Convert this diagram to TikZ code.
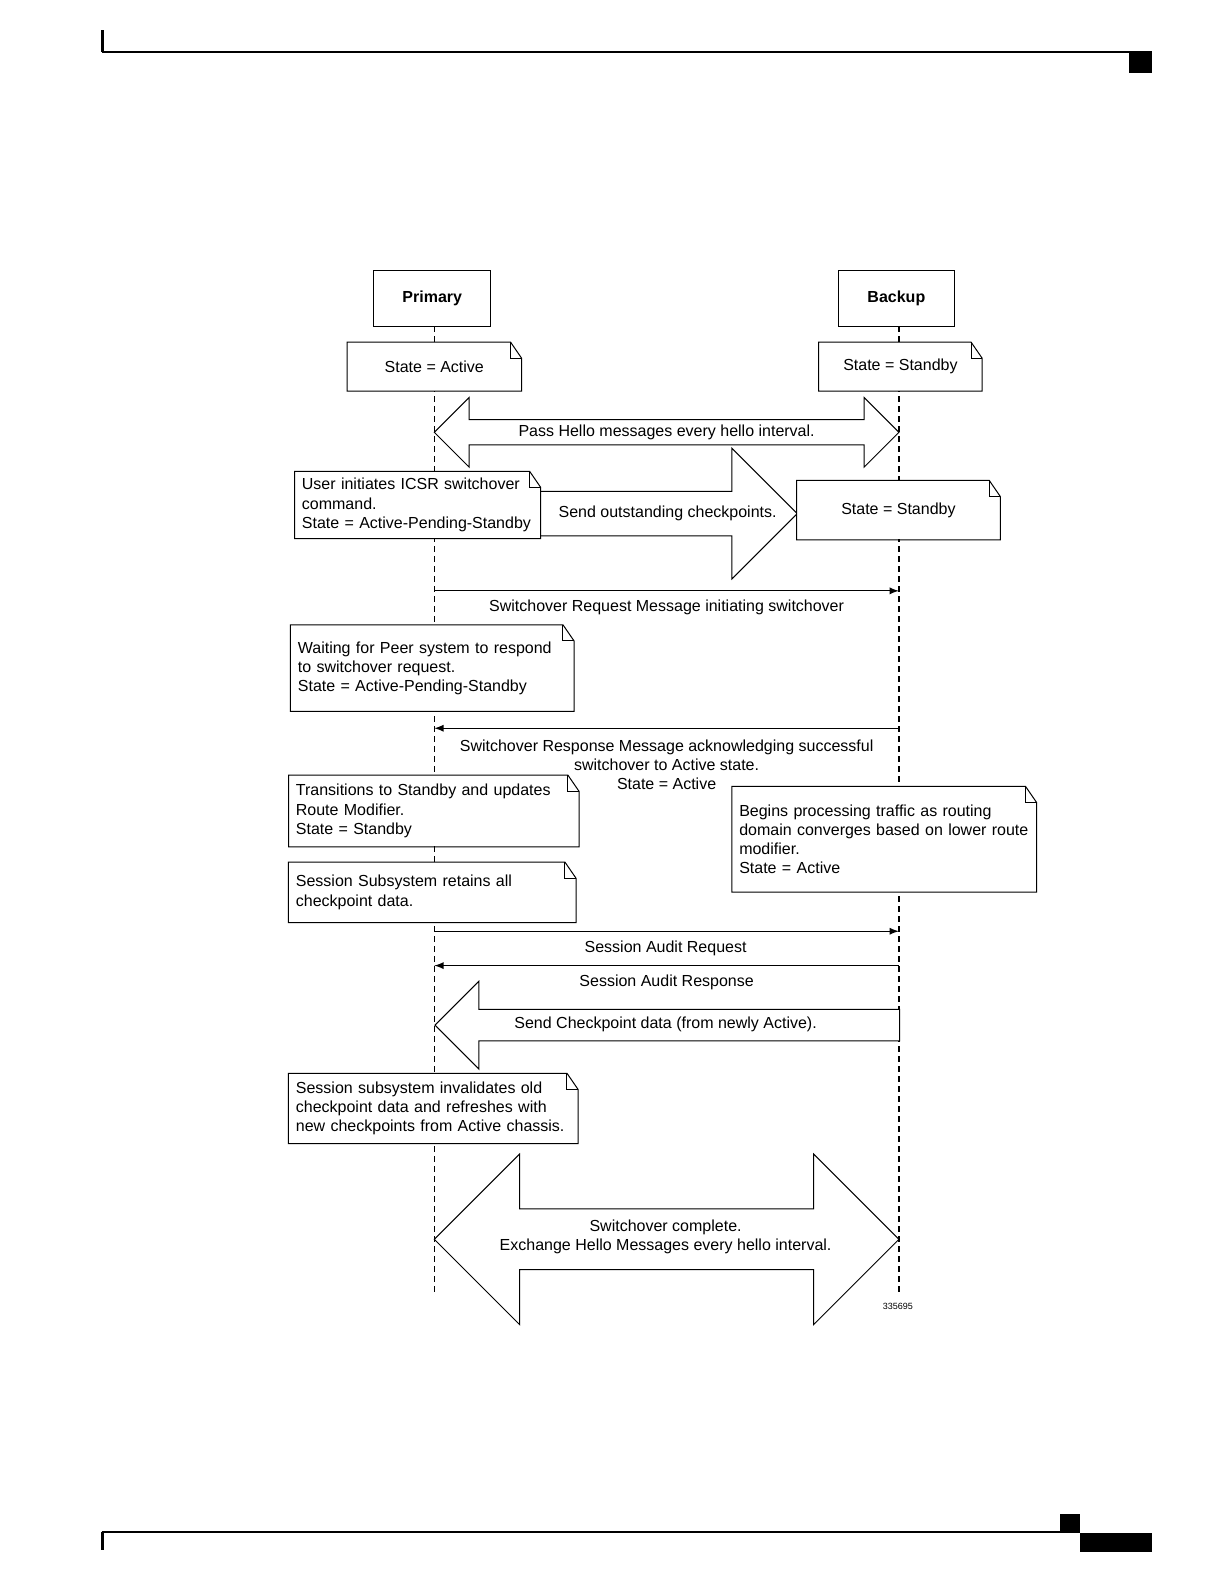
\documentclass[tikz,border=0pt]{standalone}
\usepackage{fontspec}
\setmainfont{Liberation Sans}
\usepackage{tikz}
\usetikzlibrary{arrows}
\usetikzlibrary{shapes.arrows}

\tikzset{
  lifehead/.style={draw, line width=0.5pt, fill=white, font=\fontsize{8}{9.6}\selectfont\bfseries, minimum width=58.3pt, minimum height=27.8pt},
  note/.style={fill=white, inner xsep=3.5pt, inner ysep=0pt},
  lifeline/.style={dash pattern=on 3pt off 2pt, line width=0.6pt},
  msg/.style={-latex, line width=0.6pt},
  fold/.style={line width=0.5pt},
  blockarrow/.style={draw, fill=white, line width=0.5pt, inner xsep=0pt},
}
\newcommand{\foldnote}[1]{%
  \draw [fold] (#1.north west) -- ([shift={(-11,0)}]#1.north east) -- ([shift={(0,16)}]#1.north east) -- (#1.south east) -- (#1.south west) -- cycle;
  \draw [fold] ([shift={(-11,0)}]#1.north east) |- ([shift={(0,16)}]#1.north east);
}

\begin{document}
\begin{tikzpicture}[x=0.505pt, y=-0.505pt, font=\fontsize{8}{9.6}\selectfont]
      \useasboundingbox (0, 0) rectangle (1212, 1568.3);

      % page rules
      \draw [line width=1.5pt] (101, 30) -- (101, 51.5);
      \draw [line width=1pt] (100.5, 51) -- (1141, 51);
      \fill (1118, 52) rectangle (1141, 72);
      \draw [line width=1pt] (100.5, 1517) -- (1049, 1517);
      \draw [line width=1.5pt] (101, 1516.5) -- (101, 1535);
      \fill (1049, 1499) rectangle (1069, 1518);
      \fill (1069, 1518) rectangle (1141, 1537);

      % lifelines
      \node (prim) [lifehead] at (428, 295.5) {Primary};
      \node (back) [lifehead] at (887.5, 295.5) {Backup};
      \coordinate (pl) at (430, 323);
      \coordinate (bl) at (890, 323);
      \draw [lifeline] (pl) -- (pl |- 0,1282);
      \draw [lifeline] (bl) -- (bl |- 0,1282);

      % block arrows
      \node (hello) [double arrow, blockarrow, minimum height=232.3pt, inner ysep=6.06pt, double arrow head extend=11.1pt] at (660, 428) {};
      \node at (hello) {Pass Hello messages every hello interval.};
      \node (ckpt) [single arrow, blockarrow, anchor=tip, minimum height=128.8pt, inner ysep=10.9pt, single arrow head extend=21.5pt] at (790, 508.5) {};
      \node at (661, 508) {Send outstanding checkpoints.};
      \node (newck) [single arrow, blockarrow, anchor=tip, shape border rotate=180, minimum height=232.3pt, inner ysep=7.6pt, single arrow head extend=14.1pt] at (pl |- 0,1015) {};
      \node at (659, 1014) {Send Checkpoint data (from newly Active).};
      \node (done) [double arrow, blockarrow, minimum height=232.3pt, inner ysep=14.9pt, double arrow head extend=27.5pt] at (660, 1227) {};
      \node [align=center] at (659, 1224.5) {Switchover complete.\\Exchange Hello Messages every hello interval.};

      % notes
      \node (act1) [note, minimum width=86.9pt, minimum height=24.2pt] at (430, 363) {State = Active};
      \foldnote{act1}
      \node (stb1) [note, minimum width=81.3pt, minimum height=24.2pt] at (891.5, 363) {State = Standby};
      \foldnote{stb1}
      \node (init) [note, minimum width=122.7pt, minimum height=33.3pt, text width=115.7pt, align=left] at (413.5, 500) {User initiates ICSR switchover\\command.\\State = Active-Pending-Standby};
      \foldnote{init}
      \node (stb2) [note, minimum width=101.5pt, minimum height=29.3pt] at (889.5, 505) {State = Standby};
      \foldnote{stb2}
      \node (wait) [note, minimum width=141.4pt, minimum height=42.9pt, text width=134.4pt, align=left] at (428, 661.5) {Waiting for Peer system to respond\\to switchover request.\\State = Active-Pending-Standby};
      \foldnote{wait}
      \node (trans) [note, minimum width=144.9pt, minimum height=35.4pt, text width=137.9pt, align=left] at (429.5, 803) {Transitions to Standby and updates\\Route Modifier.\\State = Standby};
      \foldnote{trans}
      \node (begin) [note, minimum width=152pt, minimum height=52.5pt, text width=145pt, align=left] at (875.5, 831) {Begins processing traffic as routing\\domain converges based on lower route\\modifier.\\State = Active};
      \foldnote{begin}
      \node (keep) [note, minimum width=143.4pt, minimum height=29.8pt, text width=136.4pt, align=left] at (428, 883.5) {Session Subsystem retains all\\checkpoint data.};
      \foldnote{keep}
      \node (inval) [note, minimum width=144.4pt, minimum height=34.8pt, text width=137.4pt, align=left] at (429, 1097.5) {Session subsystem invalidates old\\checkpoint data and refreshes with\\new checkpoints from Active chassis.};
      \foldnote{inval}

      % messages
      \draw [msg] (pl |- 0,585) -- (bl |- 0,585);
      \node at (660, 601) {Switchover Request Message initiating switchover};
      \draw [msg] (bl |- 0,721) -- (pl |- 0,721);
      \node [align=center] at (660, 757) {Switchover Response Message acknowledging successful\\switchover to Active state.\\State = Active};
      \draw [msg] (pl |- 0,922) -- (bl |- 0,922);
      \node at (659, 939) {Session Audit Request};
      \draw [msg] (bl |- 0,956) -- (pl |- 0,956);
      \node at (660, 973) {Session Audit Response};

      \node at (889, 1293) {\fontsize{4.5}{5}\selectfont 335695};
\end{tikzpicture}
\end{document}
